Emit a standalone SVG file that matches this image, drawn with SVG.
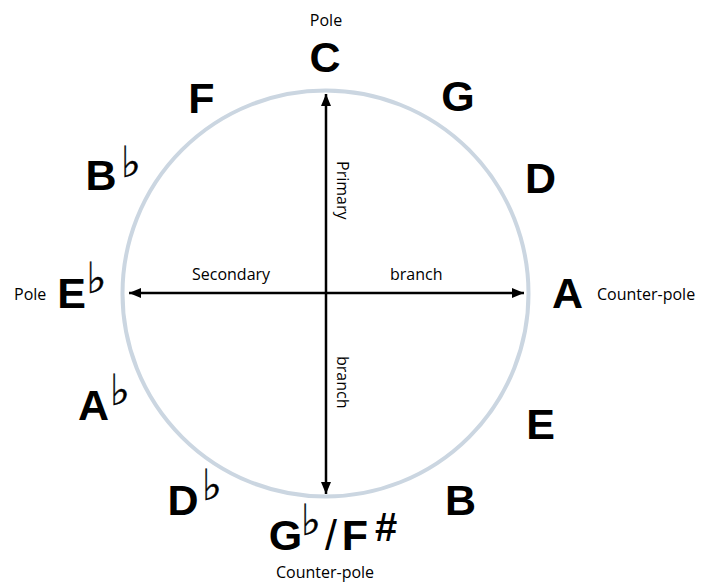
<svg xmlns="http://www.w3.org/2000/svg" width="702" height="583" viewBox="0 0 702 583">
<style>
.note{font-family:"Liberation Sans",Arial,sans-serif;font-weight:bold;font-size:43px;fill:#000;text-anchor:middle}
.flat{font-family:"DejaVu Sans","DejaVu Serif",sans-serif;font-size:43px;fill:#000;stroke:#000;stroke-width:0.35;text-anchor:middle}
.lbl{font-family:"Open Sans",sans-serif;font-size:16px;fill:#000}
.conn{stroke:#000;stroke-width:2.5;fill:none}
</style>
<defs>
<marker id="ah" viewBox="0 0 12 10" refX="12" refY="5" markerWidth="12" markerHeight="10" markerUnits="userSpaceOnUse" orient="auto-start-reverse">
<path d="M0,0 L12,5 L0,10 z" fill="#000"/>
</marker>
</defs>
<rect width="702" height="583" fill="#fff"/>
<circle id="circle" cx="325.5" cy="293.5" r="203" fill="none" stroke="#cbd6e1" stroke-width="4"/>
<g id="connectors">
<line class="conn" x1="326" y1="94" x2="326" y2="494" marker-start="url(#ah)" marker-end="url(#ah)"/>
<line class="conn" x1="129" y1="293" x2="524" y2="293" marker-start="url(#ah)" marker-end="url(#ah)"/>
</g>
<g id="axis-labels">
<text class="lbl" x="192" y="280">Secondary</text>
<text class="lbl" x="390" y="280">branch</text>
<text class="lbl" transform="translate(337,161) rotate(90)">Primary</text>
<text class="lbl" transform="translate(337,356) rotate(90)">branch</text>
</g>
<g id="node-C"><text class="lbl" x="326" y="26" text-anchor="middle">Pole</text><text class="note" x="325" y="72">C</text></g>
<g id="node-G"><text class="note" x="458" y="111">G</text></g>
<g id="node-D"><text class="note" x="540.5" y="193">D</text></g>
<g id="node-A"><text class="note" x="567.5" y="308">A</text><text class="lbl" x="597" y="300">Counter-pole</text></g>
<g id="node-E"><text class="note" x="540.5" y="439">E</text></g>
<g id="node-B"><text class="note" x="460.5" y="515">B</text></g>
<g id="node-Gb-Fs"><text class="note" x="285.5" y="550">G</text><text class="flat" x="311" y="535">♭︎</text><text class="note" x="331" y="550" style="font-weight:normal">/</text><text class="note" x="355" y="550">F</text><text class="note" x="386" y="541" style="font-size:40px">#</text><text class="lbl" x="325" y="578" text-anchor="middle">Counter-pole</text></g>
<g id="node-Db"><text class="note" x="183" y="515">D</text><text class="flat" x="212" y="500">♭︎</text></g>
<g id="node-Ab"><text class="note" x="93.5" y="420">A</text><text class="flat" x="120" y="405">♭︎</text></g>
<g id="node-Eb"><text class="lbl" x="14" y="300">Pole</text><text class="note" x="71.5" y="308">E</text><text class="flat" x="96.5" y="293">♭︎</text></g>
<g id="node-Bb"><text class="note" x="101" y="190">B</text><text class="flat" x="131" y="177">♭︎</text></g>
<g id="node-F"><text class="note" x="201.5" y="113">F</text></g>
</svg>
